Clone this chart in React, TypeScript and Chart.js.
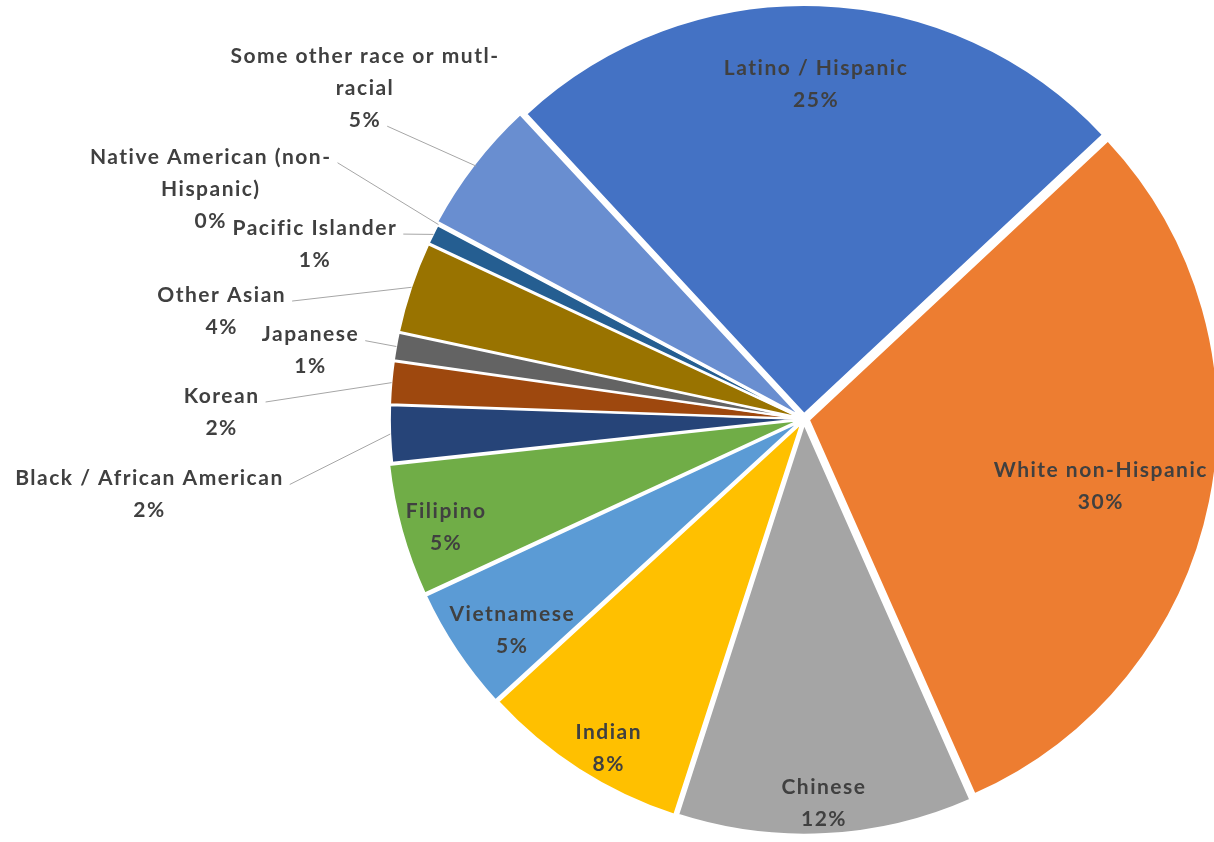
import React, { useEffect, useRef } from 'react';
import { Chart, ArcElement, PieController } from 'chart.js';

Chart.register(ArcElement, PieController);

// ---- data ----
const categories: string[] = [
  'Latino / Hispanic',
  'White non-Hispanic',
  'Chinese',
  'Indian',
  'Vietnamese',
  'Filipino',
  'Black / African American',
  'Korean',
  'Japanese',
  'Other Asian',
  'Pacific Islander',
  'Native American (non-Hispanic)',
  'Some other race or mutl-racial',
];
const shares: number[] = [24.9, 30.3, 11.6, 8.2, 4.9, 5.2, 2.25, 1.7, 1.1, 3.6, 0.8, 0.05, 5.3];

// ---- styles ----
const sliceColors: string[] = [
  '#4472C4', '#ED7D31', '#A5A5A5', '#FFC000', '#5B9BD5', '#70AD47',
  '#264478', '#9E480E', '#636363', '#997300', '#255E91', '#43682B', '#698ED0',
];
const sliceOffsets: number[] = [20, 20, 20, 20, 20, 20, 11, 11, 11, 12, 11, 11, 18];

// label placement: radial distance (fraction of radius), angular shift from slice middle (deg),
// and which text line the leader line attaches to (outside labels only)
const labelPlacement: { r: number; shift: number; leader?: number }[] = [
  { r: 0.818, shift: 0 },
  { r: 0.744, shift: 1.2 },
  { r: 0.94, shift: 0 },
  { r: 0.935, shift: -2.0 },
  { r: 0.881, shift: -2.25 },
  { r: 0.914, shift: -1.3 },
  { r: 1.611, shift: -4.5, leader: 0 },
  { r: 1.424, shift: -4.35, leader: 0 },
  { r: 1.218, shift: -2.2, leader: 0 },
  { r: 1.448, shift: -8.05, leader: 0 },
  { r: 1.27, shift: -6.8, leader: 0 },
  { r: 1.556, shift: -6.8, leader: 0 },
  { r: 1.344, shift: -0.65, leader: 2 },
];

const FONT_SIZE = 21;
const LINE_H = 32;
const WRAP_W = 275;
const LETTER_SPACING = '1.5px';
const FONT = `bold ${FONT_SIZE}px Lato, "Open Sans", sans-serif`;
const TEXT_COLOR = '#404040';

function wrapText(ctx: CanvasRenderingContext2D, text: string, maxW: number): string[] {
  const tokens = text.match(/[^\s-]+-?\s*|\s+/g) || [text];
  const lines: string[] = [];
  let cur = '';
  for (const t of tokens) {
    const trial = cur + t;
    if (cur && ctx.measureText(trial.trimEnd()).width > maxW) {
      lines.push(cur.trimEnd());
      cur = t;
    } else {
      cur = trial;
    }
  }
  if (cur) lines.push(cur.trimEnd());
  return lines;
}

const labelPlugin = {
  id: 'sliceLabels',
  afterDatasetsDraw(chart: any) {
    const ctx: CanvasRenderingContext2D = chart.ctx;
    const meta = chart.getDatasetMeta(0);
    const total = shares.reduce((a, b) => a + b, 0);
    ctx.save();
    ctx.font = FONT;
    (ctx as any).letterSpacing = LETTER_SPACING;
    ctx.fillStyle = TEXT_COLOR;
    ctx.textAlign = 'center';
    ctx.textBaseline = 'middle';
    meta.data.forEach((arc: any, i: number) => {
      const { x, y, startAngle, endAngle, outerRadius } = arc.getProps(
        ['x', 'y', 'startAngle', 'endAngle', 'outerRadius'],
        true
      );
      const mid = (startAngle + endAngle) / 2;
      const place = labelPlacement[i];
      const a = mid + (place.shift * Math.PI) / 180;
      const cx = x + Math.cos(a) * outerRadius * place.r;
      const cy = y + Math.sin(a) * outerRadius * place.r;
      const pct = Math.round((shares[i] / total) * 100) + '%';
      const lines = [...wrapText(ctx, categories[i], WRAP_W), pct];
      const top = cy - ((lines.length - 1) * LINE_H) / 2;
      if (place.leader !== undefined) {
        const k = Math.min(place.leader, lines.length - 1);
        const w = ctx.measureText(lines[k]).width;
        const ax = cx + w / 2 + 6;
        const ay = top + k * LINE_H + 6;
        const rr = outerRadius + 5;
        const sx = x + Math.cos(mid) * rr;
        const sy = y + Math.sin(mid) * rr;
        ctx.save();
        ctx.strokeStyle = '#A6A6A6';
        ctx.lineWidth = 1;
        ctx.beginPath();
        ctx.moveTo(ax, ay);
        ctx.lineTo(sx, sy);
        ctx.stroke();
        ctx.restore();
      }
      lines.forEach((l, k) => ctx.fillText(l, cx, top + k * LINE_H));
    });
    ctx.restore();
  },
};

export default function App() {
  const canvasRef = useRef<HTMLCanvasElement | null>(null);

  useEffect(() => {
    document.body.style.margin = '0';
    const canvas = canvasRef.current;
    if (!canvas) return;
    const chart = new Chart(canvas, {
      type: 'pie',
      data: {
        labels: categories,
        datasets: [
          {
            data: shares,
            backgroundColor: sliceColors,
            borderColor: '#FFFFFF',
            borderWidth: 2,
            offset: sliceOffsets,
            radius: 409,
          } as any,
        ],
      },
      options: {
        animation: false,
        responsive: false,
        rotation: -42.8,
        layout: { padding: { left: 394, right: 0, top: 0, bottom: 4 } },
        events: [],
        plugins: { legend: { display: false }, tooltip: { enabled: false } },
      } as any,
      plugins: [labelPlugin],
    });
    return () => chart.destroy();
  }, []);

  return (
    <div style={{ width: 1214, height: 842, background: '#FFFFFF' }}>
      <canvas ref={canvasRef} width={1214} height={842} style={{ display: 'block' }} />
    </div>
  );
}
